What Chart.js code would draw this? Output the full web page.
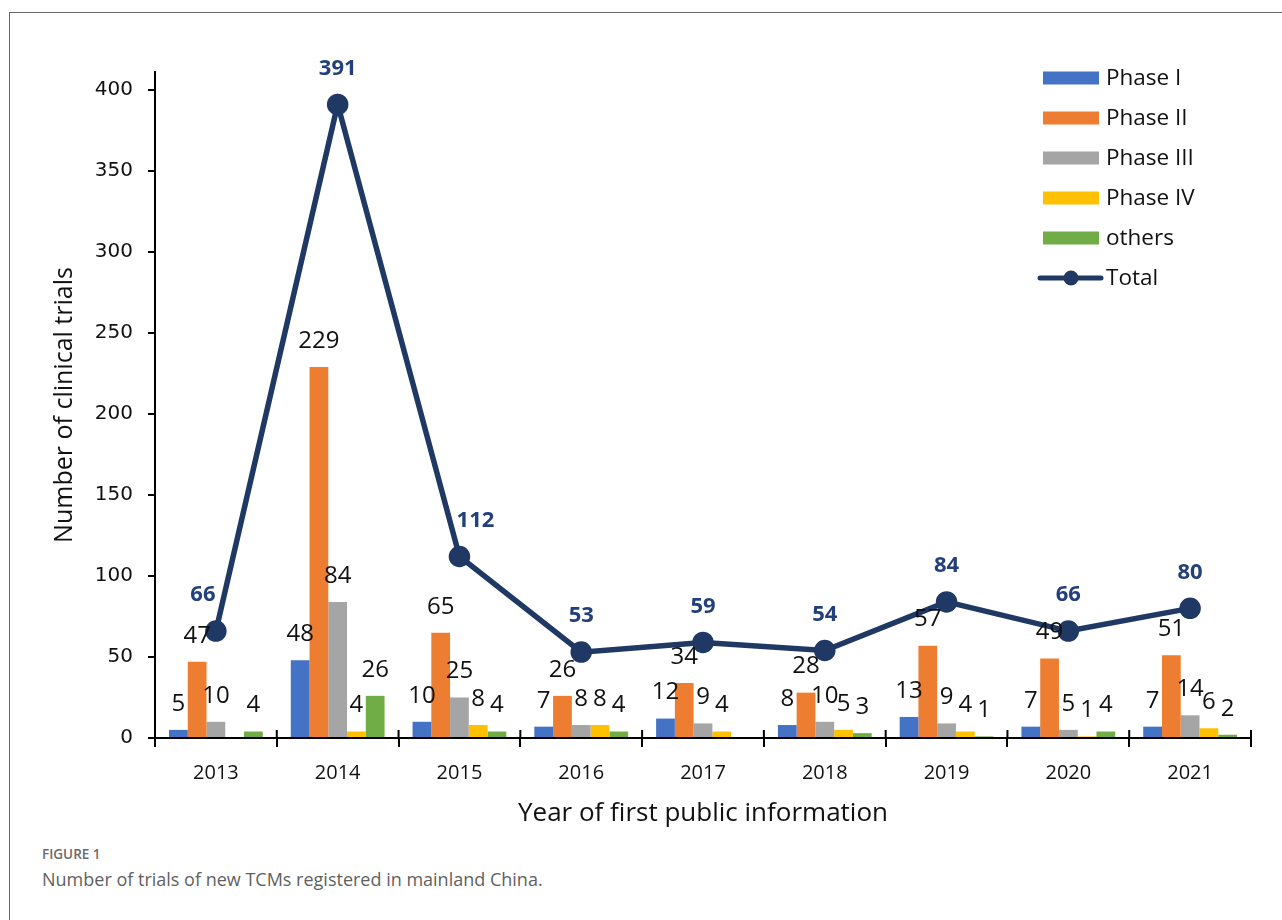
<!DOCTYPE html>
<html>
<head>
<meta charset="UTF-8">
<script src="https://cdn.jsdelivr.net/npm/chart.js@4.4.1/dist/chart.umd.min.js"></script>
<style>
    html, body {
        margin: 0;
        padding: 0;
        background: #fff;
    }
    body {
        width: 1282px;
        height: 920px;
        position: relative;
        overflow: hidden;
        font-family: "Open Sans", sans-serif;
    }
    .frame {
        position: absolute;
        left: 9px;
        top: 12px;
        right: -4px;
        bottom: -4px;
        border-left: 1.5px solid #666;
        border-top: 1.5px solid #666;
    }
    #trialsChart {
        position: absolute;
        left: 0;
        top: 0;
    }
    .fig-label {
        position: absolute;
        left: 42px;
        top: 845px;
        font-size: 13.5px;
        font-weight: 600;
        color: #6b6b6b;
    }
    .fig-caption {
        position: absolute;
        left: 42px;
        top: 867px;
        font-size: 18px;
        color: #5f5f5f;
    }
</style>
</head>
<body>

<div class="frame"></div>
<canvas id="trialsChart" width="1282" height="840"></canvas>
<div class="fig-label">FIGURE 1</div>
<div class="fig-caption">Number of trials of new TCMs registered in mainland China.</div>

<script>
// trials per year, split by phase
const years = ['2013', '2014', '2015', '2016', '2017', '2018', '2019', '2020', '2021'];
const phaseI = [5, 48, 10, 7, 12, 8, 13, 7, 7];
const phaseII = [47, 229, 65, 26, 34, 28, 57, 49, 51];
const phaseIII = [10, 84, 25, 8, 9, 10, 9, 5, 14];
const phaseIV = [0, 4, 8, 8, 4, 5, 4, 1, 6];
const others = [4, 26, 4, 4, 0, 3, 1, 4, 2];
const totals = [66, 391, 112, 53, 59, 54, 84, 66, 80];
const yTicks = [0, 50, 100, 150, 200, 250, 300, 350, 400];

const NAVY = '#1F3864';

function barSet(label, data, color) {
    return {
        type: 'bar',
        label: label,
        data: data,
        backgroundColor: color,
        borderWidth: 0,
        barPercentage: 1,
        categoryPercentage: 0.77,
        order: 1
    };
}

// value labels above bars and above the total line
const valueLabels = {
    id: 'valueLabels',
    afterDatasetsDraw(chart) {
        const ctx = chart.ctx;
        ctx.save();
        ctx.textAlign = 'center';
        ctx.textBaseline = 'middle';
        chart.data.datasets.forEach(function (ds, i) {
            const meta = chart.getDatasetMeta(i);
            meta.data.forEach(function (el, j) {
                const v = ds.data[j];
                if (ds.type === 'bar') {
                    if (!v) return;
                    ctx.font = '24px "Open Sans", sans-serif';
                    ctx.fillStyle = '#111';
                    ctx.fillText(String(v), el.x, el.y - 26);
                } else {
                    // first and third labels sit a little off-centre
                    const nudge = j === 0 ? -13 : (j === 2 ? 16 : 0);
                    ctx.font = 'bold 22px "Open Sans", sans-serif';
                    ctx.fillStyle = '#23407C';
                    ctx.fillText(String(v), el.x + nudge, el.y - 36);
                }
            });
        });
        ctx.restore();
    }
};

// legend stacked in the top right corner
const cornerLegend = {
    id: 'cornerLegend',
    afterDraw(chart) {
        const ctx = chart.ctx;
        ctx.save();
        ctx.font = '22.5px "Open Sans", sans-serif';
        ctx.textAlign = 'left';
        ctx.textBaseline = 'middle';
        chart.data.datasets.forEach(function (ds, i) {
            const cy = 78 + i * 40;
            if (ds.type === 'bar') {
                ctx.fillStyle = ds.backgroundColor;
                ctx.fillRect(1043, cy - 6.5, 56, 13);
            } else {
                ctx.strokeStyle = ds.borderColor;
                ctx.lineWidth = 5;
                ctx.lineCap = 'round';
                ctx.beginPath();
                ctx.moveTo(1040, cy);
                ctx.lineTo(1101, cy);
                ctx.stroke();
                ctx.fillStyle = ds.pointBackgroundColor;
                ctx.beginPath();
                ctx.arc(1071, cy, 7.5, 0, Math.PI * 2);
                ctx.fill();
            }
            ctx.fillStyle = '#111';
            ctx.fillText(ds.label, 1106, cy + 1);
        });
        ctx.restore();
    }
};

// category tick marks cross the x axis line
const crossTicks = {
    id: 'crossTicks',
    afterDraw(chart) {
        const x = chart.scales.x;
        const ctx = chart.ctx;
        const half = (x.getPixelForValue(1) - x.getPixelForValue(0)) / 2;
        ctx.save();
        ctx.strokeStyle = '#000';
        ctx.lineWidth = 2;
        ctx.beginPath();
        for (let i = 0; i <= years.length; i++) {
            const px = x.getPixelForValue(i) - half;
            ctx.moveTo(px, x.top - 8);
            ctx.lineTo(px, x.top);
        }
        ctx.stroke();
        ctx.restore();
    }
};

new Chart(document.getElementById('trialsChart'), {
    type: 'bar',
    data: {
        labels: years,
        datasets: [
            barSet('Phase I', phaseI, '#4472C4'),
            barSet('Phase II', phaseII, '#ED7D31'),
            barSet('Phase III', phaseIII, '#A5A5A5'),
            barSet('Phase IV', phaseIV, '#FFC000'),
            barSet('others', others, '#70AD47'),
            {
                type: 'line',
                label: 'Total',
                data: totals,
                borderColor: NAVY,
                borderWidth: 5.5,
                pointRadius: 8,
                pointBackgroundColor: NAVY,
                pointBorderColor: NAVY,
                tension: 0,
                clip: false,
                order: 0
            }
        ]
    },
    options: {
        responsive: false,
        animation: false,
        layout: {
            padding: { top: 72, right: 31, bottom: 0, left: 0 }
        },
        plugins: {
            legend: { display: false },
            tooltip: { enabled: false }
        },
        scales: {
            x: {
                grid: {
                    drawOnChartArea: false,
                    color: '#000',
                    lineWidth: 2,
                    tickLength: 9
                },
                border: { color: '#000', width: 2 },
                ticks: {
                    color: '#111',
                    padding: 14,
                    font: { family: '"Open Sans", sans-serif', size: 20 }
                },
                title: {
                    display: true,
                    text: 'Year of first public information',
                    color: '#111',
                    font: { family: '"Open Sans", sans-serif', size: 26 },
                    padding: { top: 0, bottom: 11 }
                },
                afterFit(scale) { scale.height = 102; }
            },
            y: {
                min: 0,
                max: 411,
                grid: {
                    drawOnChartArea: false,
                    color: '#000',
                    lineWidth: 2,
                    tickLength: 7
                },
                border: { color: '#000', width: 2 },
                ticks: {
                    color: '#111',
                    padding: 15,
                    font: { family: '"DejaVu Sans", sans-serif', size: 20 }
                },
                afterBuildTicks(scale) {
                    scale.ticks = yTicks.map(function (v) { return { value: v }; });
                },
                title: {
                    display: true,
                    text: 'Number of clinical trials',
                    color: '#111',
                    font: { family: '"Open Sans", sans-serif', size: 25 },
                    padding: { top: 50, bottom: 0 }
                },
                afterFit(scale) { scale.width = 155; }
            }
        }
    },
    plugins: [valueLabels, cornerLegend, crossTicks]
});
</script>

</body>
</html>
